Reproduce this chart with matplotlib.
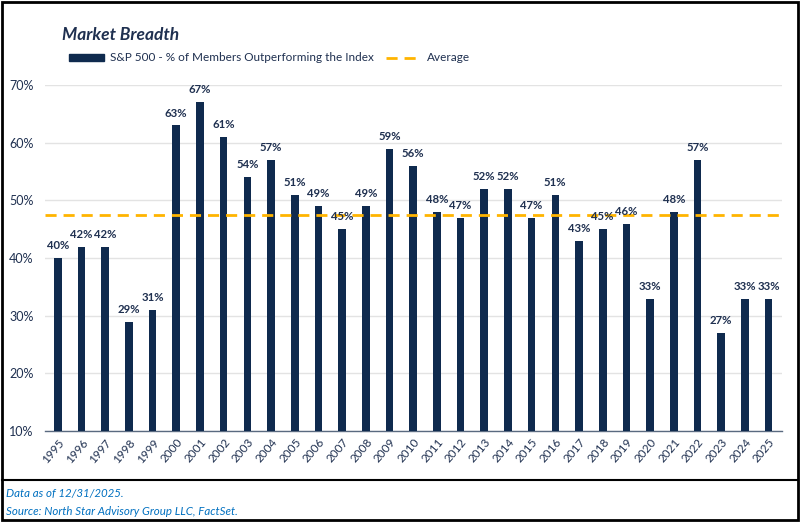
import matplotlib
matplotlib.use("Agg")
import matplotlib.pyplot as plt
from matplotlib.patches import Rectangle, Patch
from matplotlib.lines import Line2D

years = [str(y) for y in range(1995, 2026)]
values = [40, 42, 42, 29, 31, 63, 67, 61, 54, 57, 51, 49, 45, 49, 59, 56,
          48, 47, 52, 52, 47, 51, 43, 45, 46, 33, 48, 57, 27, 33, 33]
average = 47.5
yticks = [10, 20, 30, 40, 50, 60, 70]

plt.rcParams['font.family'] = ['Lato', 'DejaVu Sans']

navy = '#0F2A4E'
text_c = '#1F3050'
gold = '#FFB400'
blue = '#0070C0'

fig = plt.figure(figsize=(8, 5.22), dpi=100)
ax = fig.add_axes([0.056, 0.174, 0.921, 0.663])

x = list(range(len(years)))
ax.bar(x, [v - 10 for v in values], bottom=10, width=0.32, color=navy, zorder=3)
ax.axhline(average, color=gold, lw=2, ls=(0, (4, 2.5)), zorder=4)

for xi, v in zip(x, values):
    ax.text(xi, v + 1.2, f"{v}%", ha='center', va='bottom', fontsize=8.2,
            fontweight='bold', color=text_c, zorder=5)

ax.set_xlim(-0.55, len(years) - 0.45)
ax.set_ylim(10, 70)
ax.set_yticks(yticks)
ax.set_yticklabels([f"{t}%" for t in yticks], fontsize=9, color=text_c)
ax.set_xticks(x)
ax.set_xticklabels(years, rotation=50, ha='right', rotation_mode='anchor',
                   fontsize=8.5, color=text_c)
ax.tick_params(axis='both', length=0)
ax.tick_params(axis='y', pad=8)
ax.tick_params(axis='x', pad=4)
ax.grid(axis='y', color='#E3E3E3', lw=1, zorder=0)
for s in ['top', 'right', 'left']:
    ax.spines[s].set_visible(False)
ax.spines['bottom'].set_color('#5A6A80')
ax.spines['bottom'].set_linewidth(1)

fig.text(0.077, 0.932, "Market Breadth", fontsize=12.5, fontweight='bold',
         fontstyle='italic', color=text_c, va='center')

handles = [Patch(color=navy, label="S&P 500 - % of Members Outperforming the Index"),
           Line2D([0], [0], color=gold, lw=2, ls=(0, (4, 2.5)), label="Average")]
leg = fig.legend(handles=handles, loc='center left', bbox_to_anchor=(0.073, 0.889),
                 ncol=2, frameon=False, fontsize=8.5, handlelength=3.0,
                 handleheight=0.5, columnspacing=1.0, handletextpad=0.5)
for t in leg.get_texts():
    t.set_color(text_c)

# border and separator
fig.add_artist(Rectangle((0.002, 0.003), 0.995, 0.993, transform=fig.transFigure,
                         fill=False, edgecolor='black', lw=2))
fig.add_artist(Line2D([0.002, 0.997], [0.08, 0.08], transform=fig.transFigure,
                      color='black', lw=1.5))

fig.text(0.008, 0.055, "Data as of 12/31/2025.", fontsize=8.3, fontstyle='italic',
         color=blue, va='center')
fig.text(0.008, 0.021, "Source: North Star Advisory Group LLC, FactSet.", fontsize=8.3,
         fontstyle='italic', color=blue, va='center')

fig.savefig("out.png", dpi=100)
